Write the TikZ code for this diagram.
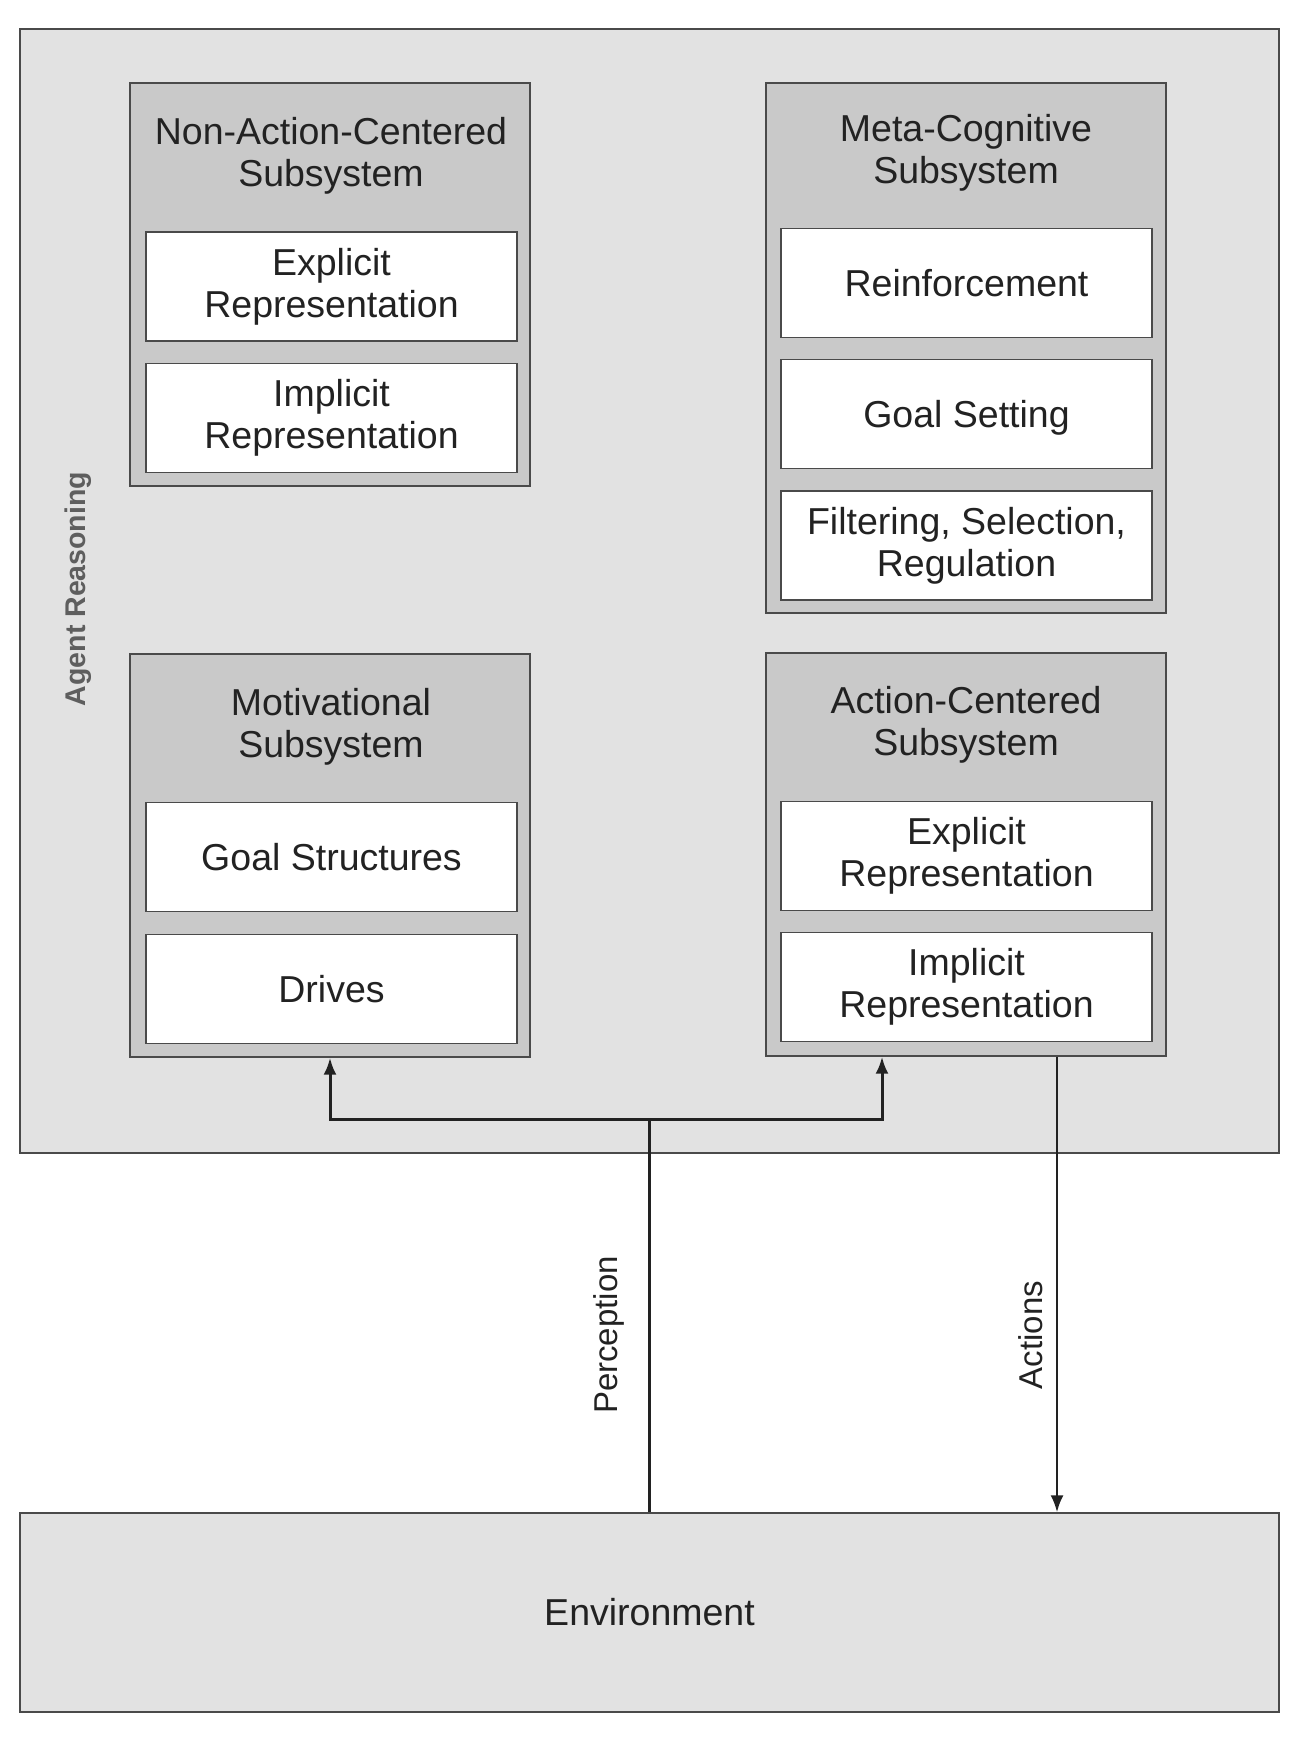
\documentclass[tikz,border=0pt]{standalone}
\usepackage{fontspec}
\setmainfont{Liberation Sans}
\usetikzlibrary{arrows.meta}
\definecolor{outerfill}{HTML}{E2E2E2}
\definecolor{subfill}{HTML}{C9C9C9}
\definecolor{boxline}{HTML}{4A4A4A}
\definecolor{txt}{HTML}{222222}
\definecolor{agentgray}{HTML}{5E5E5E}
\tikzset{
  bigbox/.style={draw=boxline, line width=1.4pt, fill=outerfill, inner sep=0pt},
  subbox/.style={draw=boxline, line width=1.4pt, fill=subfill, minimum width=400pt, minimum height=403pt, inner sep=0pt},
  itembox/.style={draw=boxline, line width=1.4pt, fill=white, minimum width=371pt, minimum height=109pt, inner sep=0pt, align=center, text=txt, font=\fontsize{37.5}{42}\selectfont},
  title/.style={align=center, text=txt, font=\fontsize{37.5}{42}\selectfont, inner sep=0pt},
  flow/.style={draw=txt, line width=3pt},
  tip/.style={-{Latex[length=17pt,width=13pt]}},
  vlabel/.style={rotate=90, text=txt, font=\fontsize{33}{38}\selectfont, inner sep=0pt}
}
\begin{document}
\begin{tikzpicture}[x=1pt,y=-1pt]
\useasboundingbox (0,0) rectangle (1299,1742);
\fill[white] (0,0) rectangle (1299,1742);
% outer boxes
\node[bigbox, minimum width=1259pt, minimum height=1124pt] (agent) at (649.5,591) {};
\node[bigbox, minimum width=1259pt, minimum height=199pt, text=txt, font=\fontsize{37.5}{42}\selectfont] (env) at (649.5,1612.5) {Environment};
\node[rotate=90, text=agentgray, font=\fontsize{28.5}{32}\selectfont\bfseries, inner sep=0pt] (agentlbl) at (78,589) {Agent Reasoning};
% Non-Action-Centered
\node[subbox] (nac) at (330,284.5) {};
\node[title] (nact) at (331,156) {Non-Action-Centered\\Subsystem};
\node[itembox] (nace) at (331.5,286.5) {Explicit\\Representation};
\node[itembox] (naci) at (331.5,418) {Implicit\\Representation};
% Meta-Cognitive
\node[subbox, minimum height=530pt] (mc) at (966,348) {};
\node[title] (mct) at (966,153) {Meta-Cognitive\\Subsystem};
\node[itembox] (mcr) at (966.5,283) {Reinforcement};
\node[itembox, text depth=0pt] (mcg) at (966.5,414) {Goal Setting};
\node[itembox] (mcf) at (966.5,545.5) {Filtering, Selection,\\Regulation};
% Motivational
\node[subbox] (mot) at (330,855.5) {};
\node[title] (mott) at (331,727) {Motivational\\Subsystem};
\node[itembox] (motg) at (331.5,857) {Goal Structures};
\node[itembox] (motd) at (331.5,989) {Drives};
% Action-Centered
\node[subbox] (ac) at (966,854.5) {};
\node[title] (act) at (966,725) {Action-Centered\\Subsystem};
\node[itembox] (ace) at (966.5,856) {Explicit\\Representation};
\node[itembox] (aci) at (966.5,987) {Implicit\\Representation};
% connectors
\coordinate (pj) at (649,1119);
\coordinate (pr) at (882,1119);
\coordinate (ax) at (1057,0);
\draw[flow] (env.north -| pj) -- (pj);
\draw[flow, tip] (pj) -| (mot.south);
\draw[flow, tip] (pj) -- (pr) -- (ac.south -| pr);
\draw[flow, line width=2.4pt, tip] (ac.south -| ax) -- (env.north -| ax);
\node[vlabel] (perc) at (609,1335) {Perception};
\node[vlabel] (actl) at (1031,1335) {Actions};
\end{tikzpicture}
\end{document}
